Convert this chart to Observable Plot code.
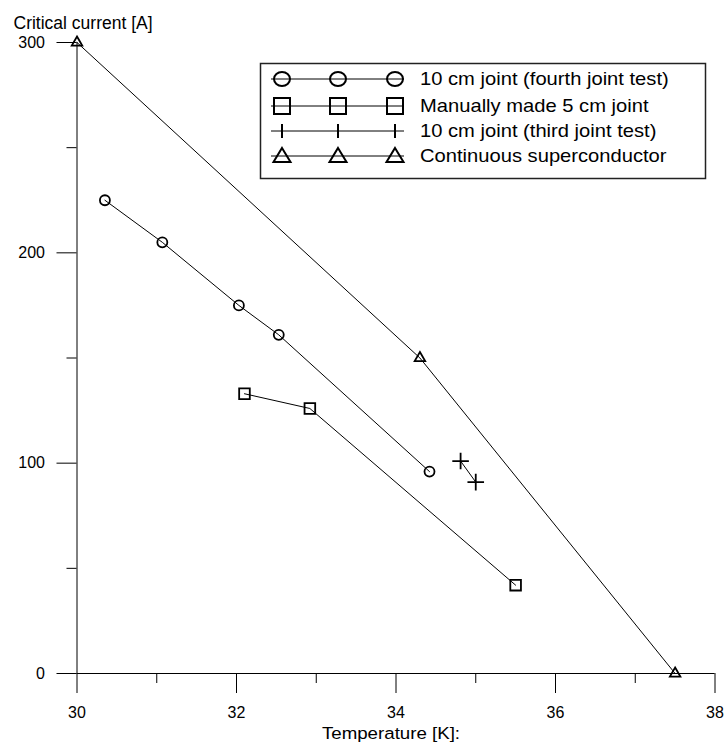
<!DOCTYPE html>
<html><head><meta charset="utf-8">
<script src="https://cdn.jsdelivr.net/npm/d3@7"></script>
<script src="https://cdn.jsdelivr.net/npm/@observablehq/plot@0.6"></script>
<style>
body{margin:0;background:#fff;}
#wrap{position:relative;width:727px;height:749px;font-family:"Liberation Sans",Arial,sans-serif;}
#wrap svg{display:block;}
#legend{position:absolute;left:0;top:0;pointer-events:none;}
</style></head><body><div id="wrap"></div>
<script>
// ---- data ----
const fourthT = [30.35, 31.07, 32.03, 32.53, 34.42];
const fourthI = [225, 205, 175, 161, 96];
const manualT = [32.1, 32.92, 35.5];
const manualI = [133, 126, 42];
const thirdT = [34.81, 35.0];
const thirdI = [101, 91];
const contT = [30, 34.3, 37.5];
const contI = [300, 150, 0];

const seriesNames = [
  "10 cm joint (fourth joint test)",
  "Manually made 5 cm joint",
  "10 cm joint (third joint test)",
  "Continuous superconductor"
];
const xMajor = [30, 32, 34, 36, 38];
const xMinor = [31, 33, 35, 37];
const yMajor = [0, 100, 200, 300];
const yMinor = [50, 150, 250];
const xTitle = "Temperature [K]:";
const yTitle = "Critical current [A]";

// ---- build tables ----
const toRows = (T, I) => T.map((t, k) => ({t, i: I[k]}));
const series = [
  {name: seriesNames[0], rows: toRows(fourthT, fourthI), symbol: "circle", r: 5},
  {name: seriesNames[1], rows: toRows(manualT, manualI), symbol: "square", r: 6},
  {name: seriesNames[2], rows: toRows(thirdT, thirdI), symbol: "plus", r: 5.4},
  {name: seriesNames[3], rows: toRows(contT, contI), symbol: "triangle", r: 3.9}
];

const marks = [
  Plot.ruleX([30], {y1: 0, y2: 300, stroke: "black"}),
  Plot.ruleY([0], {x1: 30, x2: 38, stroke: "black"}),
  Plot.axisX(xMajor, {tickSize: 20, tickPadding: 13, fontSize: 16, label: null}),
  Plot.axisX(xMinor, {tickSize: 10, tickFormat: () => "", label: null}),
  Plot.axisY(yMajor, {tickSize: 20, tickPadding: 12, fontSize: 16, label: null}),
  Plot.axisY(yMinor, {tickSize: 10, tickFormat: () => "", label: null})
];
for (const s of series) {
  marks.push(Plot.line(s.rows, {x: "t", y: "i", stroke: "black", strokeWidth: 1}));
}
for (const s of series) {
  marks.push(Plot.dot(s.rows, {x: "t", y: "i", symbol: s.symbol, r: s.r, fill: "none", stroke: "black", strokeWidth: 1.8}));
}
marks.push(Plot.text([yTitle], {frameAnchor: "top-left", dx: -63.5, dy: -26, textAnchor: "start", fontSize: 17.5}));
marks.push(Plot.text([xTitle], {frameAnchor: "bottom", dx: -5, dy: 65, fontSize: 17}));

const chart = Plot.plot({
  width: 727, height: 749,
  marginLeft: 76.5, marginRight: 12.5, marginTop: 42, marginBottom: 76,
  style: {fontFamily: "'Liberation Sans', Arial, sans-serif", fontSize: "16px", background: "white", color: "black", overflow: "visible"},
  x: {domain: [30, 38]},
  y: {domain: [0, 300]},
  marks
});
const wrap = document.getElementById("wrap");
wrap.appendChild(chart);

// slight horizontal widening of the axis title, as in the reference
d3.select(chart).selectAll("text").each(function () {
  if (this.textContent === xTitle) this.setAttribute("transform", (this.getAttribute("transform") || "") + " scale(1.1,1)");
});

// ---- legend overlay ----
const lg = d3.select(wrap).append("svg").attr("id", "legend").attr("width", 727).attr("height", 749);
lg.append("rect").attr("x", 260.5).attr("y", 63.5).attr("width", 445).attr("height", 115)
  .attr("fill", "white").attr("stroke", "#222").attr("stroke-width", 1.5);
const rowY = [79, 106, 131, 156];
const mx = [282, 338, 395];
series.forEach((s, k) => {
  const y = rowY[k];
  const g = lg.append("g");
  g.append("line").attr("x1", 271).attr("x2", 404).attr("y1", y).attr("y2", y).attr("stroke", "black").attr("stroke-width", 1);
  for (const x of mx) {
    if (s.symbol === "circle") g.append("ellipse").attr("cx", x).attr("cy", y).attr("rx", 8).attr("ry", 7).attr("fill", "none").attr("stroke", "black").attr("stroke-width", 2);
    if (s.symbol === "square") g.append("rect").attr("x", x - 8).attr("y", y - 8).attr("width", 16).attr("height", 16).attr("fill", "none").attr("stroke", "black").attr("stroke-width", 2);
    if (s.symbol === "plus") g.append("line").attr("x1", x).attr("x2", x).attr("y1", y - 7).attr("y2", y + 7).attr("stroke", "black").attr("stroke-width", 2);
    if (s.symbol === "triangle") g.append("path").attr("d", `M${x},${y - 8}L${x + 8.5},${y + 6}L${x - 8.5},${y + 6}Z`).attr("fill", "none").attr("stroke", "black").attr("stroke-width", 2);
  }
  g.append("text").attr("transform", `translate(420,${y}) scale(1.12,1)`).attr("dy", "0.35em")
    .attr("font-size", 18).attr("fill", "black").text(s.name);
});
</script></body></html>
